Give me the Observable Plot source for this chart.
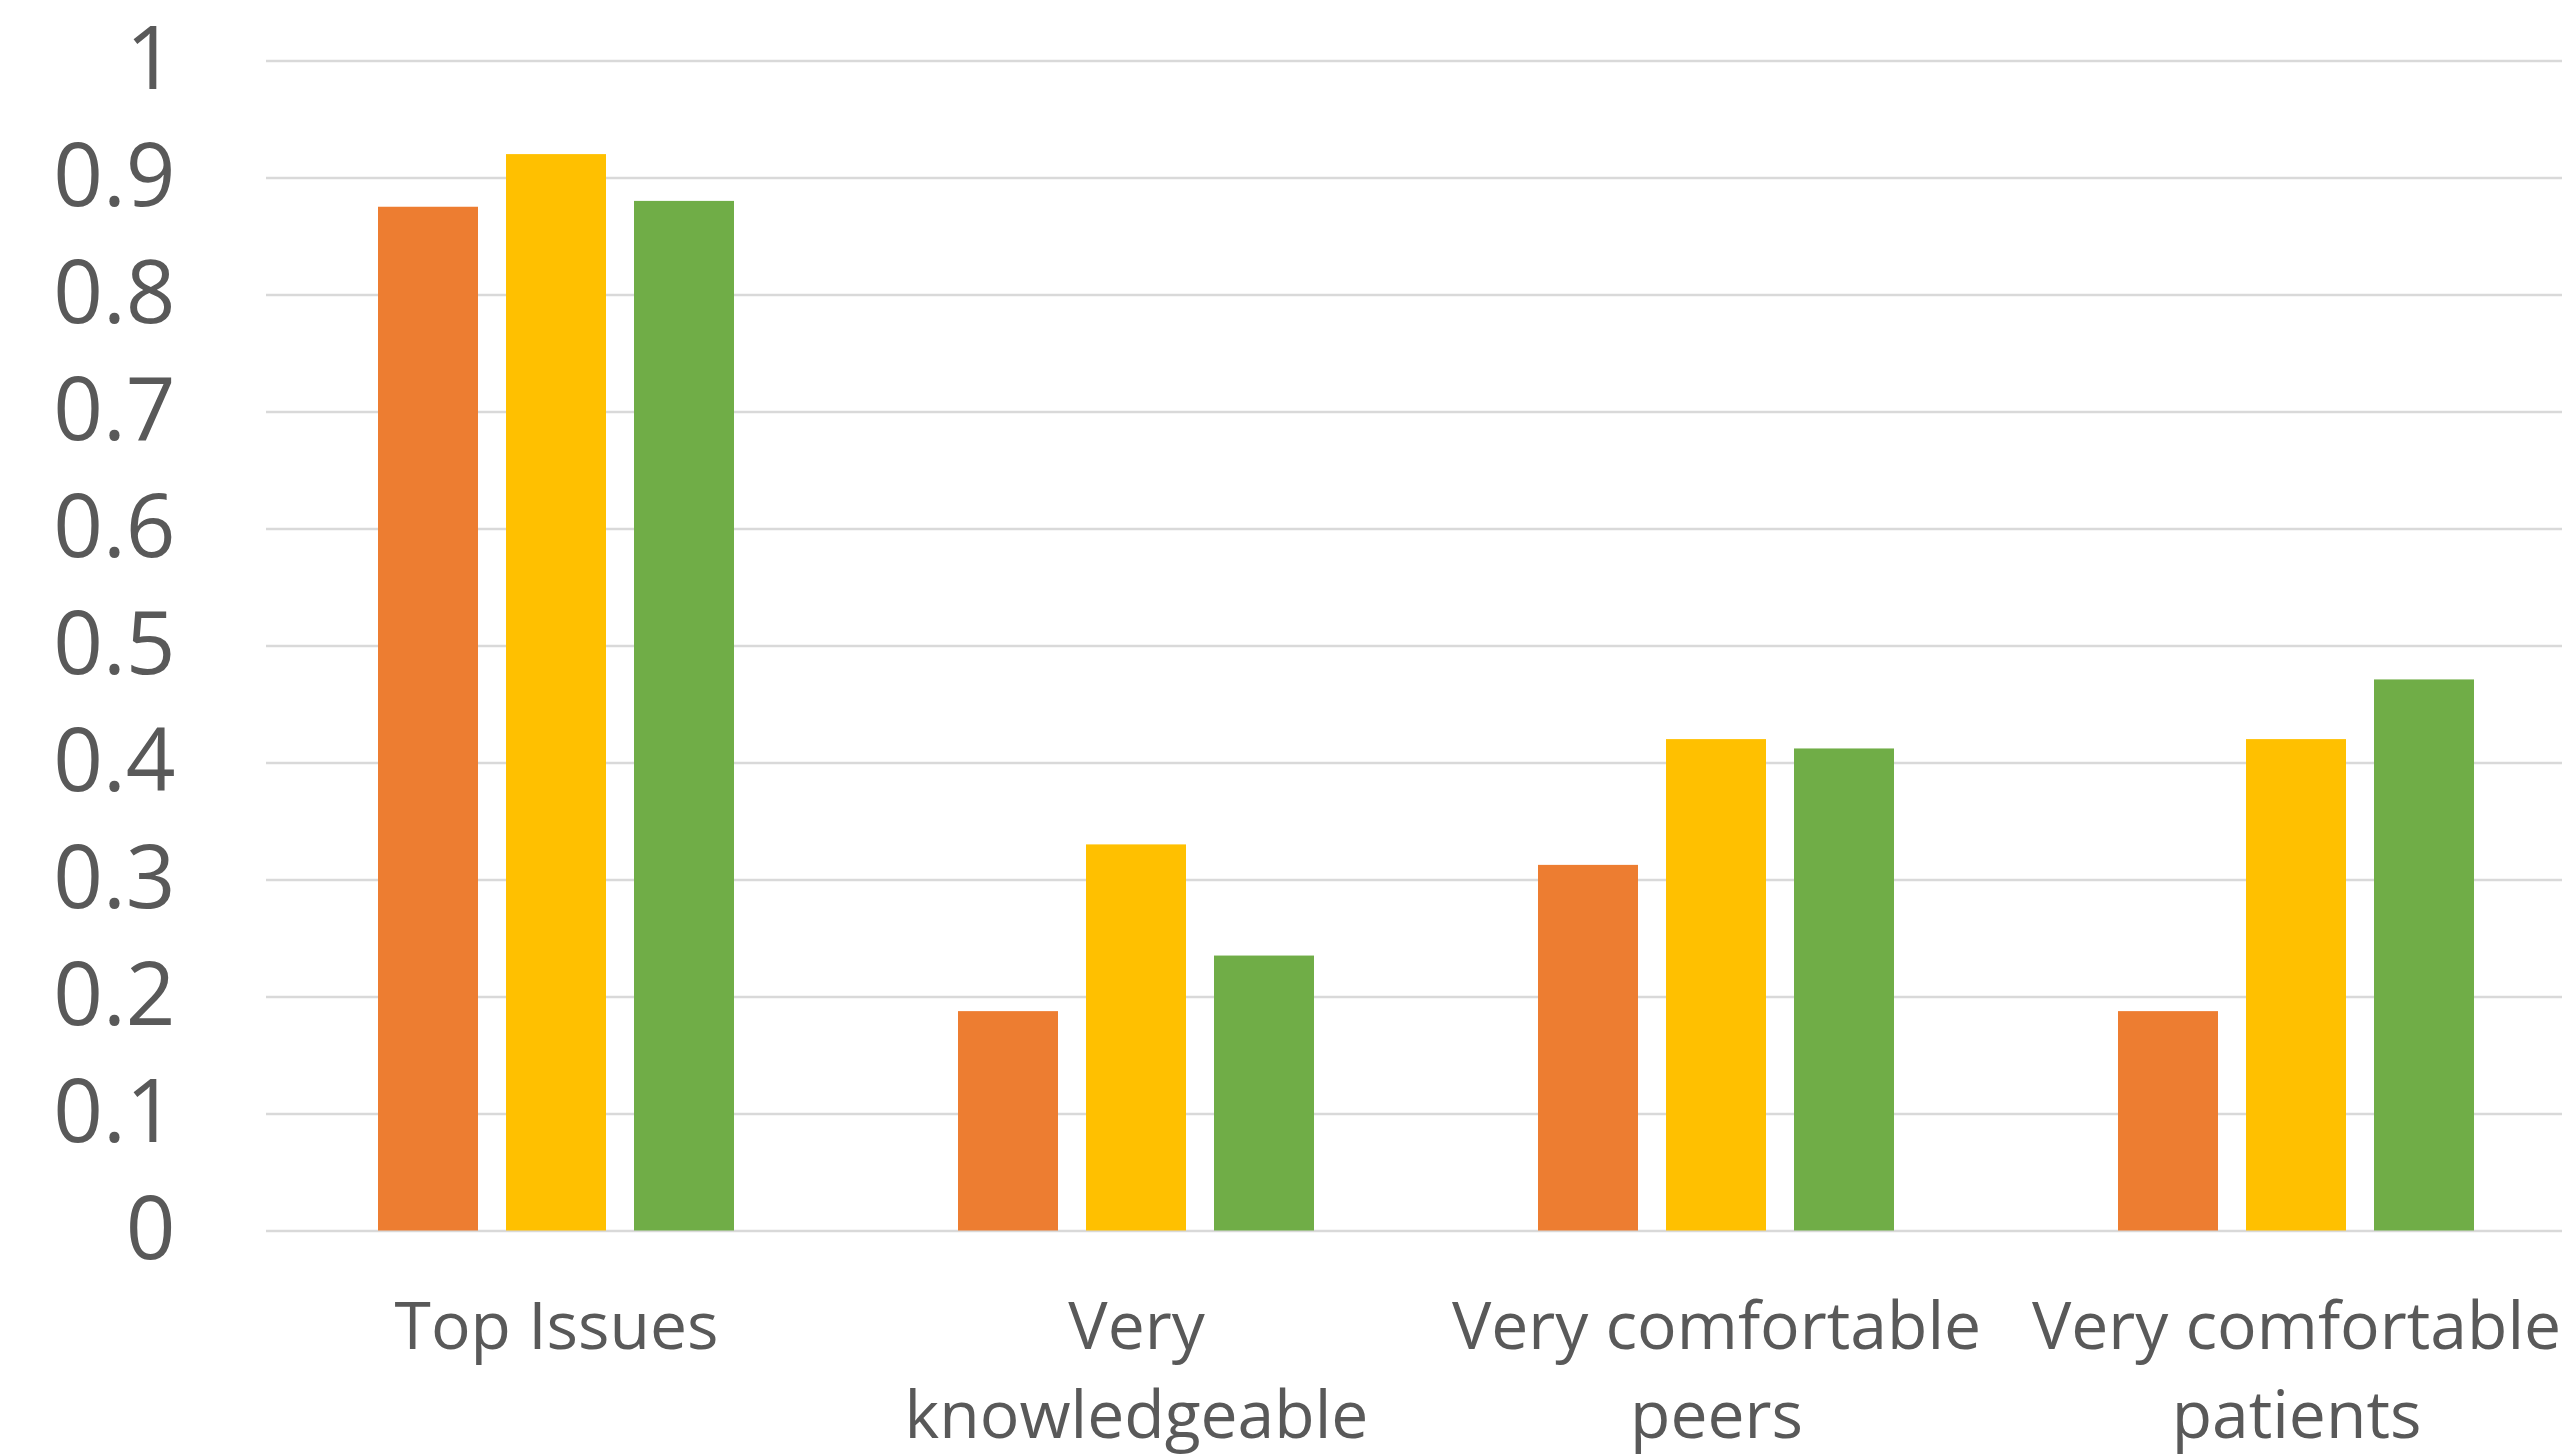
<!DOCTYPE html>
<html>
<head>
<meta charset="utf-8">
<script src="https://cdn.jsdelivr.net/npm/d3@7"></script>
<script src="https://cdn.jsdelivr.net/npm/@observablehq/plot@0.6"></script>
<style>
  html, body { margin: 0; padding: 0; background: #ffffff; overflow: hidden; }
  #chart svg { display: block; }
</style>
</head>
<body>
<div id="chart"></div>
<script>
// ---- data ----
const categories = ["Top Issues", "Very knowledgeable", "Very comfortable peers", "Very comfortable patients"];
const tickLabels = ["Top Issues", "Very\nknowledgeable", "Very comfortable\npeers", "Very comfortable\npatients"];
const series = ["Series 1", "Series 2", "Series 3"];
const values1 = [0.875, 0.1875, 0.3125, 0.1875];
const values2 = [0.92, 0.33, 0.42, 0.42];
const values3 = [0.88, 0.235, 0.412, 0.471];
const colors = ["#ED7D31", "#FFC000", "#70AD47"];
const yTicks = [0, 0.1, 0.2, 0.3, 0.4, 0.5, 0.6, 0.7, 0.8, 0.9, 1];

const seriesValues = [values1, values2, values3];
const data = categories.flatMap((c, i) =>
  series.map((s, j) => ({category: c, series: s, value: seriesValues[j][i]}))
);

const chart = Plot.plot({
  width: 2562,
  height: 1454,
  marginLeft: 266,
  marginRight: -24,
  marginTop: 60.5,
  marginBottom: 223.5,
  style: {fontFamily: "'Open Sans', sans-serif", background: "#ffffff", color: "#595959"},
  fx: {domain: categories, padding: 0, label: null},
  x: {domain: series, paddingInner: 0.215, paddingOuter: 0.865, axis: null},
  y: {domain: [0, 1], label: null},
  color: {domain: series, range: colors},
  marks: [
    Plot.ruleY(yTicks, {stroke: "#d9d9d9", strokeWidth: 2.5}),
    Plot.barY(data, {fx: "category", x: "series", y: "value", fill: "series"}),
    Plot.axisY(yTicks, {
      tickSize: 0, tickPadding: 91, fontSize: 87, fill: "#595959", label: null,
      tickFormat: d => String(+d.toFixed(1))
    }),
    Plot.axisFx({
      anchor: "bottom", tickSize: 0, tickPadding: 55.5, fontSize: 66, lineHeight: 1.34,
      fill: "#595959", label: null,
      tickFormat: c => tickLabels[categories.indexOf(c)]
    })
  ]
});
document.getElementById("chart").appendChild(chart);
</script>
</body>
</html>
